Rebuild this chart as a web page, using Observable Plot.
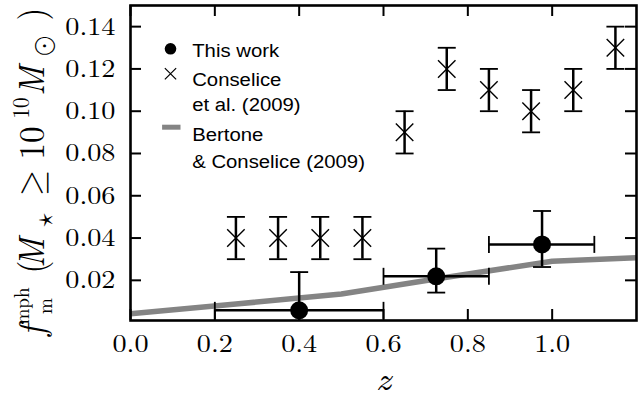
<!DOCTYPE html>
<html>
<head>
<meta charset="utf-8">
<script src="https://cdn.jsdelivr.net/npm/d3@7"></script>
<script src="https://cdn.jsdelivr.net/npm/@observablehq/plot@0.6"></script>
<style>
  html, body { margin: 0; padding: 0; background: white; }
  svg { display: block; }
</style>
</head>
<body>
<div id="chart"></div>
<script>
// ---- Data ----
// This work (filled circles with x and y error bars)
const workZ    = [0.40, 0.725, 0.976];
const workF    = [0.0058, 0.0219, 0.0370];
const workFLo  = [0.0, 0.0142, 0.0263];
const workFHi  = [0.0239, 0.0350, 0.0528];
const workZLo  = [0.20, 0.60, 0.85];
const workZHi  = [0.60, 0.85, 1.10];

// Conselice et al. (2009) (crosses with y error bars)
const conZ   = [0.25, 0.35, 0.45, 0.55, 0.65, 0.75, 0.85, 0.95, 1.05, 1.15];
const conF   = [0.04, 0.04, 0.04, 0.04, 0.09, 0.12, 0.11, 0.10, 0.11, 0.13];
const conErr = [0.01, 0.01, 0.01, 0.01, 0.01, 0.01, 0.01, 0.01, 0.01, 0.01];

// Bertone & Conselice (2009) (grey line)
const bcZ = [0.0, 0.25, 0.5, 0.75, 1.0, 1.2];
const bcF = [0.0042, 0.0088, 0.0135, 0.0215, 0.0290, 0.0307];

// Axes
const xTicks = [0.0, 0.2, 0.4, 0.6, 0.8, 1.0];
const xTickLabels = ["0.0", "0.2", "0.4", "0.6", "0.8", "1.0"];
const yTicks = [0.02, 0.04, 0.06, 0.08, 0.10, 0.12, 0.14];
const yTickLabels = ["0.02", "0.04", "0.06", "0.08", "0.10", "0.12", "0.14"];
const xLabel = "z";

// Legend
const legendWork = "This work";
const legendCon = "Conselice\net al. (2009)";
const legendBC = "Bertone\n& Conselice (2009)";

// ---- Tables ----
const work = workZ.map((z, i) => ({z, f: workF[i], lo: workFLo[i], hi: workFHi[i], zlo: workZLo[i], zhi: workZHi[i]}));
const con = conZ.map((z, i) => ({z, f: conF[i], lo: conF[i] - conErr[i], hi: conF[i] + conErr[i]}));
const bc = bcZ.map((z, i) => ({z, f: bcF[i]}));

const marginLeft = 130, marginRight = 2, marginTop = 5, marginBottom = 79;
const W = 638, H = 399;
const innerH = H - marginTop - marginBottom;
const innerW = W - marginLeft - marginRight;
const tickLen = 11;

const serif = "Latin Modern Roman, Liberation Serif, DejaVu Serif, serif";
const mathFont = "Latin Modern Math, Latin Modern Roman, DejaVu Serif, serif";
const sans = "Liberation Sans, Arial, Helvetica, sans-serif";

// custom symbols for error-bar caps
const capH = {draw(ctx, size) { const r = Math.sqrt(size / Math.PI); ctx.moveTo(-r, 0); ctx.lineTo(r, 0); }};
const capV = {draw(ctx, size) { const r = Math.sqrt(size / Math.PI); ctx.moveTo(0, -r); ctx.lineTo(0, r); }};

const plot = Plot.plot({
  width: W, height: H,
  marginLeft, marginRight, marginTop, marginBottom,
  style: {background: "white", overflow: "visible"},
  x: {domain: [0, 1.2], axis: null},
  y: {domain: [0.001, 0.15], axis: null},
  marks: [
    // grey model line
    Plot.line(bc, {x: "z", y: "f", stroke: "#848484", strokeWidth: 5.5, clip: true}),
    // Conselice error bars
    Plot.ruleX(con, {x: "z", y1: "lo", y2: "hi", stroke: "black", strokeWidth: 2.5}),
    Plot.dot(con, {x: "z", y: "lo", symbol: capH, r: 9, stroke: "black", strokeWidth: 1.8}),
    Plot.dot(con, {x: "z", y: "hi", symbol: capH, r: 9, stroke: "black", strokeWidth: 1.8}),
    Plot.dot(con, {x: "z", y: "f", symbol: "times", r: 8, stroke: "black", strokeWidth: 1.4}),
    // This work error bars
    Plot.ruleX(work, {x: "z", y1: "lo", y2: "hi", stroke: "black", strokeWidth: 2.5, clip: true}),
    Plot.ruleY(work, {y: "f", x1: "zlo", x2: "zhi", stroke: "black", strokeWidth: 2.5}),
    Plot.dot(work, {x: "zlo", y: "f", symbol: capV, r: 8.5, stroke: "black", strokeWidth: 1.8}),
    Plot.dot(work, {x: "zhi", y: "f", symbol: capV, r: 8.5, stroke: "black", strokeWidth: 1.8}),
    Plot.dot(work.filter(d => d.lo > 0.001), {x: "z", y: "lo", symbol: capH, r: 9, stroke: "black", strokeWidth: 1.8}),
    Plot.dot(work, {x: "z", y: "hi", symbol: capH, r: 9, stroke: "black", strokeWidth: 1.8}),
    Plot.dot(work, {x: "z", y: "f", r: 9, fill: "black"}),
    // inward ticks
    Plot.tickX(xTicks, {x: d => d, insetTop: innerH - tickLen, stroke: "black", strokeWidth: 2}),
    Plot.tickX(xTicks, {x: d => d, insetBottom: innerH - tickLen, stroke: "black", strokeWidth: 2}),
    Plot.tickY(yTicks, {y: d => d, insetRight: innerW - tickLen, stroke: "black", strokeWidth: 2}),
    Plot.tickY(yTicks, {y: d => d, insetLeft: innerW - tickLen, stroke: "black", strokeWidth: 2}),
    // frame
    Plot.frame({stroke: "black", strokeWidth: 2.6}),
    // tick labels
    Plot.text(xTicks, {x: d => d, frameAnchor: "bottom", text: (d, i) => xTickLabels[i], lineAnchor: "top", dy: 14,
      textAnchor: "middle", fontSize: 25, fontFamily: serif, fill: "black"}),
    Plot.text(yTicks, {y: d => d, frameAnchor: "left", text: (d, i) => yTickLabels[i], lineAnchor: "middle", dx: -15,
      textAnchor: "end", fontSize: 25, fontFamily: serif, fill: "black"}),
    // x axis label
    Plot.text([xLabel], {frameAnchor: "bottom", text: d => d, lineAnchor: "middle", dy: 59, fontSize: 33,
      fontStyle: "italic", fontFamily: serif, fill: "black"}),
    // legend
    Plot.dot([0], {frameAnchor: "top-left", dx: 40, dy: 43.3, r: 5.8, fill: "black"}),
    Plot.dot([0], {frameAnchor: "top-left", dx: 40, dy: 68.3, symbol: "times", r: 5.2, stroke: "black", strokeWidth: 1.2}),
    Plot.dot([0], {frameAnchor: "top-left", dx: 40.8, dy: 121.7, symbol: capH, r: 9.2, stroke: "#848484", strokeWidth: 5}),
    Plot.text([legendWork], {frameAnchor: "top-left", text: d => d, dx: 61.7, dy: 38.2, lineAnchor: "top",
      textAnchor: "start", fontSize: 19, fontFamily: sans, fill: "black"}),
    Plot.text([legendCon], {frameAnchor: "top-left", text: d => d, dx: 61.7, dy: 63.2, lineAnchor: "top", lineHeight: 1.316,
      textAnchor: "start", fontSize: 19, fontFamily: sans, fill: "black"}),
    Plot.text([legendBC], {frameAnchor: "top-left", text: d => d, dx: 61.7, dy: 116.5, lineAnchor: "top", lineHeight: 1.405,
      textAnchor: "start", fontSize: 19, fontFamily: sans, fill: "black"})
  ]
});

// make sure fonts are applied as inline styles, and stretch glyphs horizontally like the reference
d3.select(plot).selectAll("g[font-family]").each(function() {
  this.style.fontFamily = this.getAttribute("font-family");
  const fs = this.getAttribute("font-style");
  if (fs) this.style.fontStyle = fs;
  const isSans = this.getAttribute("font-family") === sans;
  d3.select(this).selectAll("text").each(function() {
    const t = this.getAttribute("transform") || "";
    this.setAttribute("transform", t + (isSans ? " scale(1.07,1)" : " scale(1.13,1)"));
  });
});

// y-axis label: f_m^mph(M_* >= 10^10 M_sun), rotated
const yl = d3.select(plot).append("g")
  .attr("transform", "translate(44,0) rotate(-90) scale(1,1.1)")
  .attr("fill", "black")
  .style("font-family", serif);
const pieces = [
  {t: "f", p: 331, s: 33, it: true, o: 0},
  {t: "mph", p: 306, s: 19, it: false, o: -14},
  {t: "m", p: 306, s: 19, it: false, o: 7},
  {t: "(", p: 267, s: 33, it: false, o: 0},
  {t: "M", p: 253, s: 33, it: true, o: 0},
  {t: "\u22C6", p: 220, s: 26, it: false, o: 8, math: true},
  {t: "\u2265", p: 183, s: 33, it: false, o: 0, math: true},
  {t: "10", p: 143, s: 33, it: false, o: 0},
  {t: "10", p: 108, s: 21, it: false, o: -14},
  {t: "M", p: 81, s: 33, it: true, o: 0},
  {t: "\u2299", p: 46, s: 26, it: false, o: 7, math: true},
  {t: ")", p: 14, s: 33, it: false, o: 0}
];
for (const d of pieces) {
  yl.append("text")
    .attr("x", -d.p)
    .attr("y", d.o)
    .style("font-size", d.s + "px")
    .style("font-style", d.it ? "italic" : "normal")
    .style("font-family", d.math ? mathFont : serif)
    .text(d.t);
}

document.getElementById("chart").appendChild(plot);
</script>
</body>
</html>
